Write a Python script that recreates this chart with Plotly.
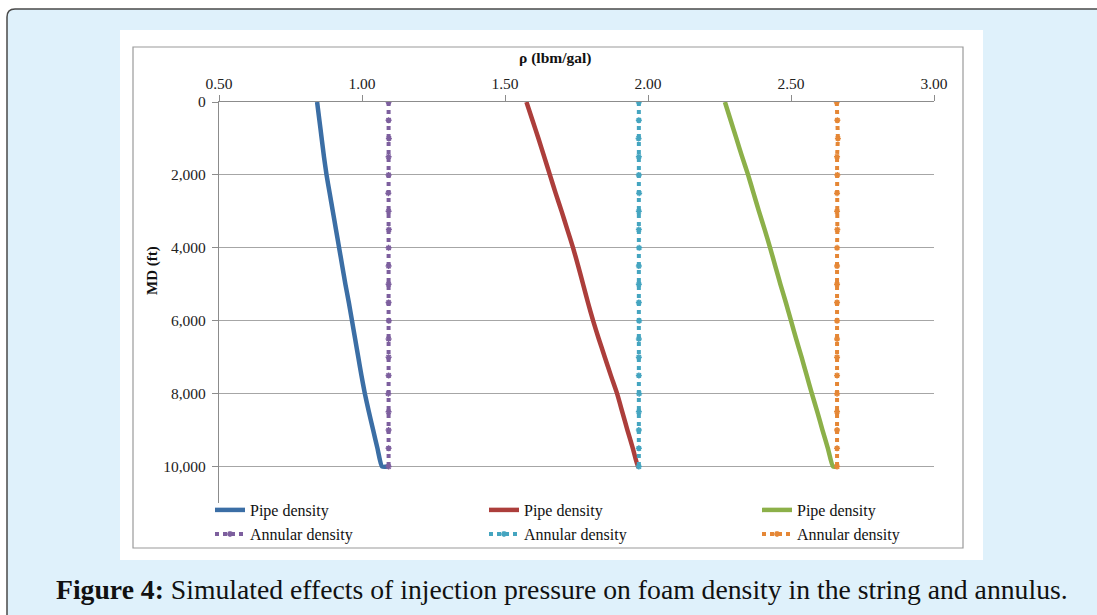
import plotly.graph_objects as go

# ---------------- data ----------------
depth = [0, 500, 1000, 1500, 2000, 2500, 3000, 3500, 4000, 4500, 5000,
         5500, 6000, 6500, 7000, 7500, 8000, 8500, 9000, 9500, 10000]
pipe_depth = depth + [10000]

pipe1 = [0.843, 0.851, 0.859, 0.867, 0.876, 0.887, 0.898, 0.909, 0.920, 0.931, 0.942,
         0.954, 0.965, 0.976, 0.987, 0.998, 1.010, 1.024, 1.039, 1.054, 1.070, 1.092]
annular1 = [1.093, 1.093, 1.094, 1.093, 1.093, 1.092, 1.093, 1.094, 1.093, 1.093, 1.093,
            1.093, 1.094, 1.093, 1.093, 1.093, 1.092, 1.093, 1.093, 1.093, 1.093]

pipe2 = [1.575, 1.596, 1.617, 1.637, 1.657, 1.677, 1.698, 1.718, 1.738, 1.756, 1.773,
         1.790, 1.808, 1.828, 1.849, 1.870, 1.892, 1.910, 1.928, 1.947, 1.965, 1.968]
annular2 = [1.968, 1.968, 1.967, 1.968, 1.968, 1.969, 1.968, 1.968, 1.969, 1.968, 1.968,
            1.968, 1.969, 1.968, 1.968, 1.968, 1.969, 1.968, 1.968, 1.968, 1.968]

pipe3 = [2.269, 2.289, 2.309, 2.329, 2.350, 2.369, 2.388, 2.408, 2.427, 2.445, 2.463,
         2.482, 2.500, 2.518, 2.537, 2.555, 2.573, 2.592, 2.610, 2.629, 2.647, 2.660]
annular3 = [2.660, 2.662, 2.664, 2.661, 2.662, 2.661, 2.661, 2.662, 2.661, 2.661, 2.661,
            2.661, 2.661, 2.661, 2.661, 2.661, 2.661, 2.661, 2.661, 2.661, 2.661]

x_ticks = [0.5, 1.0, 1.5, 2.0, 2.5, 3.0]
y_ticks = [0, 2000, 4000, 6000, 8000, 10000]

names = ["Pipe density", "Annular density"]
colors = ["#3b6ea5", "#7d5f9e", "#ac3e3b", "#45a5c0", "#8cb049", "#e58736"]

x_title = "ρ (lbm/gal)"
y_title = "MD (ft)"
caption = "<b>Figure 4:</b> Simulated effects of injection pressure on foam density in the string and annulus."

# ---------------- layout geometry (pixels) ----------------
W, H = 1097, 615
PL, PR, PT, PB = 219, 934, 102, 503


def px(x):
    return (x - PL) / (PR - PL)


def py(y):
    return (PB - y) / (PB - PT)


FONT = "Liberation Serif"

fig = go.Figure()

series = [(pipe1, annular1), (pipe2, annular2), (pipe3, annular3)]
legend_ids = ["legend", "legend2", "legend3", "legend4", "legend5", "legend6"]
for i, (p, a) in enumerate(series):
    fig.add_trace(go.Scatter(
        x=p, y=pipe_depth, mode="lines", name=names[0], showlegend=True,
        line=dict(color=colors[2 * i], width=4.5, shape="spline", smoothing=0.5),
        legend=legend_ids[2 * i]))
    fig.add_trace(go.Scatter(
        x=a, y=depth, mode="lines+markers", name=names[1], showlegend=True,
        line=dict(color=colors[2 * i + 1], width=4, dash="dot"),
        marker=dict(color=colors[2 * i + 1], size=5, symbol="asterisk-open",
                    line=dict(color=colors[2 * i + 1], width=1.5)),
        legend=legend_ids[2 * i + 1]))

shapes = []
# outer rounded light-blue panel
x0, y0, r = 7, 9, 8
path = (f"M {px(W + 20)},{py(y0)} L {px(x0 + r)},{py(y0)} "
        f"Q {px(x0)},{py(y0)} {px(x0)},{py(y0 + r)} L {px(x0)},{py(H + 20)} "
        f"L {px(W + 20)},{py(H + 20)} Z")
shapes.append(dict(type="path", xref="paper", yref="paper", path=path,
                   fillcolor="#dff1fb", line=dict(color="#4a4a4a", width=1.5),
                   layer="below"))
# white chart region
shapes.append(dict(type="rect", xref="paper", yref="paper",
                   x0=px(120), x1=px(983), y0=py(30), y1=py(560),
                   fillcolor="white", line=dict(width=0), layer="below"))
# chart border
shapes.append(dict(type="rect", xref="paper", yref="paper",
                   x0=px(133), x1=px(963), y0=py(47), y1=py(548),
                   fillcolor="rgba(0,0,0,0)", line=dict(color="#9a9a9a", width=1.2),
                   layer="below"))

annotations = [
    dict(text=f"<b>{x_title}</b>", xref="paper", yref="paper", x=px(555), y=py(58),
         showarrow=False, font=dict(family=FONT, size=15.5, color="#111"),
         xanchor="center", yanchor="middle"),
    dict(text=f"<b>{y_title}</b>", xref="paper", yref="paper", x=px(152), y=py(271),
         showarrow=False, textangle=-90, font=dict(family=FONT, size=15, color="#111"),
         xanchor="center", yanchor="middle"),
    dict(text=caption, xref="paper", yref="paper", x=px(562), y=py(589),
         showarrow=False, font=dict(family=FONT, size=27.7, color="#111"),
         xanchor="center", yanchor="middle"),
]

legend_cols = [210, 484, 757]
legend_rows = [510, 534]
legend_layout = {}
for i, lid in enumerate(legend_ids):
    col, row = i // 2, i % 2
    legend_layout[lid] = dict(
        visible=True,
        x=px(legend_cols[col]), y=py(legend_rows[row]), xanchor="left", yanchor="middle",
        bgcolor="rgba(0,0,0,0)", borderwidth=0,
        font=dict(family=FONT, size=16, color="#111"))

fig.update_layout(
    width=W, height=H,
    showlegend=True,
    margin=dict(l=PL, r=W - PR, t=PT, b=H - PB),
    paper_bgcolor="white", plot_bgcolor="rgba(0,0,0,0)",
    shapes=shapes, annotations=annotations,
    xaxis=dict(side="top", range=[0.5, 3.0], tickvals=x_ticks, tickformat=".2f",
               showline=True, linecolor="#8c8c8c", linewidth=1.2,
               ticks="outside", ticklen=6, tickcolor="#8c8c8c",
               showgrid=False, zeroline=False,
               tickfont=dict(family=FONT, size=15.5, color="#222")),
    yaxis=dict(range=[11000, 0], tickvals=y_ticks, tickformat=",",
               showline=True, linecolor="#8c8c8c", linewidth=1.2,
               ticks="outside", ticklen=6, tickcolor="#8c8c8c",
               ticklabelstandoff=3,
               showgrid=True, gridcolor="#a6a6a6", gridwidth=1.2, zeroline=False,
               tickfont=dict(family=FONT, size=15.5, color="#222")),
    **legend_layout,
)

fig.write_html("out.html")
